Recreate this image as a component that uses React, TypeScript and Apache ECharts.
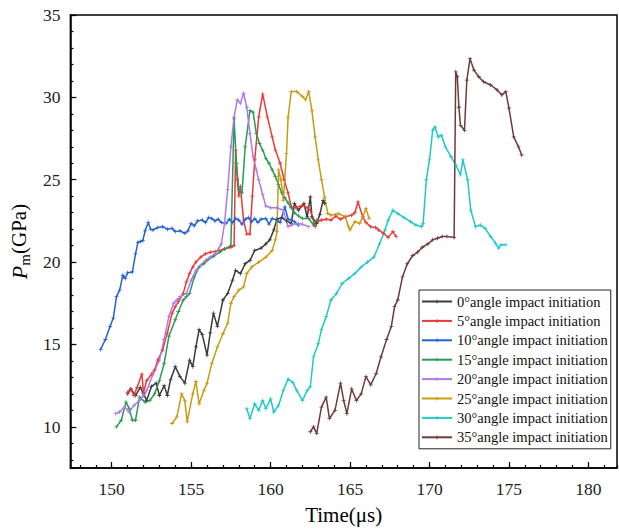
import React, { useEffect, useRef } from 'react';
import * as echarts from 'echarts';

const seriesNames = [
  '0°angle impact initiation',
  '5°angle impact initiation',
  '10°angle impact initiation',
  '15°angle impact initiation',
  '20°angle impact initiation',
  '25°angle impact initiation',
  '30°angle impact initiation',
  '35°angle impact initiation',
];

const seriesColors = ['#3a3a3a', '#e83a3a', '#2462d2', '#2a9a58', '#b07ae6', '#c89b12', '#22c8c8', '#6e3b3b'];

const xTicks = [150, 155, 160, 165, 170, 175, 180];
const yTicks = [10, 15, 20, 25, 30, 35];

const a0: [number, number][] = [[151.0,12.0],[151.2,12.3],[151.5,11.9],[151.8,12.4],[152.0,12.0],[152.2,11.6],[152.5,12.45],[152.8,12.65],[153.0,11.9],[153.3,12.5],[153.5,11.9],[153.7,12.85],[154.0,13.65],[154.3,13.05],[154.6,12.65],[154.9,14.05],[155.1,13.65],[155.3,14.85],[155.5,15.9],[155.7,15.6],[156.0,14.35],[156.2,15.7],[156.4,16.9],[156.65,16.1],[157.0,17.7],[157.3,18.1],[157.6,18.9],[157.8,19.5],[158.1,19.3],[158.4,19.9],[158.7,20.1],[159.0,20.7],[159.4,20.85],[159.7,21.1],[159.95,21.35],[160.2,21.95],[160.4,22.6],[160.7,22.7],[161.0,22.5],[161.3,22.35],[161.5,23.55],[161.75,23.15],[162.1,23.55],[162.3,22.75],[162.5,23.95],[162.6,22.75],[162.9,22.35],[163.1,22.9],[163.3,23.75],[163.4,23.55]];

const a5: [number, number][] = [[151.0,12.1],[151.2,12.3],[151.4,11.9],[151.6,12.4],[151.9,13.2],[152.0,12.1],[152.2,12.8],[152.5,13.2],[152.7,13.45],[152.9,14.05],[153.2,14.65],[153.5,15.7],[153.8,16.9],[154.0,17.3],[154.2,17.6],[154.5,18.1],[154.7,18.8],[154.9,19.3],[155.1,19.7],[155.3,20.0],[155.6,20.3],[155.9,20.5],[156.2,20.6],[156.5,20.65],[156.8,20.7],[157.1,20.8],[157.5,20.9],[157.7,21.0],[157.8,26.8],[157.9,25.0],[158.0,24.0],[158.1,24.6],[158.3,22.5],[158.5,21.7],[158.7,21.7],[158.85,24.0],[159.0,26.2],[159.25,28.8],[159.5,30.2],[159.8,28.8],[160.1,27.6],[160.3,26.8],[160.6,26.0],[160.85,25.0],[161.1,24.2],[161.3,23.35],[161.6,23.3],[162.0,23.45],[162.3,23.3],[162.5,23.15],[162.8,22.15],[163.0,22.5],[163.2,22.55],[163.5,22.6],[163.8,22.55],[164.1,22.8],[164.4,22.6],[164.7,22.75],[165.1,22.85],[165.3,23.0],[165.5,23.65],[165.8,22.75],[166.0,22.4],[166.3,22.15],[166.6,22.1],[166.8,21.95],[167.1,21.75],[167.4,21.5],[167.7,21.85],[167.9,21.55]];

const a10: [number, number][] = [[149.3,14.7],[149.6,15.3],[149.9,16.1],[150.1,16.6],[150.3,17.9],[150.5,18.3],[150.7,19.2],[150.85,19.0],[151.0,19.35],[151.3,19.4],[151.5,20.5],[151.65,21.2],[151.8,21.25],[151.96,21.3],[152.1,21.9],[152.3,22.4],[152.45,22.0],[152.6,21.95],[152.9,22.1],[153.2,22.15],[153.5,22.0],[153.8,22.05],[154.0,21.85],[154.3,21.9],[154.6,21.75],[154.8,21.9],[155.0,22.35],[155.2,22.2],[155.4,22.5],[155.7,22.55],[155.9,22.4],[156.1,22.7],[156.3,22.65],[156.5,22.5],[156.7,22.6],[156.9,22.4],[157.2,22.35],[157.4,22.6],[157.6,22.4],[157.8,22.65],[158.0,22.55],[158.2,22.3],[158.4,22.6],[158.6,22.7],[158.8,22.45],[159.0,22.65],[159.2,22.4],[159.4,22.6],[159.7,22.65],[159.9,22.3],[160.1,22.65],[160.4,22.55],[160.6,22.4],[160.9,23.35],[161.1,22.6],[161.3,22.55],[161.5,22.45],[161.75,22.25]];

const a15: [number, number][] = [[150.3,10.0],[150.6,10.4],[150.9,11.5],[151.1,11.1],[151.3,10.4],[151.5,10.4],[151.75,11.8],[152.1,11.5],[152.4,11.6],[152.7,12.0],[153.0,12.8],[153.3,13.85],[153.6,15.5],[154.0,16.5],[154.2,17.0],[154.5,17.7],[154.7,17.9],[154.9,18.1],[155.2,19.1],[155.5,19.7],[155.8,19.9],[156.0,20.1],[156.4,20.35],[156.8,20.6],[157.1,20.8],[157.5,21.0],[157.7,28.7],[157.85,26.0],[158.0,24.4],[158.2,24.2],[158.4,27.0],[158.7,29.2],[158.9,29.1],[159.1,27.8],[159.3,27.2],[159.5,26.8],[159.7,26.3],[159.9,26.0],[160.1,25.6],[160.3,25.2],[160.5,24.7],[160.7,24.2],[160.9,23.9],[161.1,23.6],[161.3,23.3],[161.5,23.0],[161.75,22.8],[162.0,22.65],[162.4,22.65],[162.7,22.25],[162.9,22.55]];

const a20: [number, number][] = [[150.25,10.8],[150.5,10.9],[150.8,11.2],[151.1,10.9],[151.4,11.3],[151.75,11.6],[152.0,11.9],[152.2,12.2],[152.6,13.2],[153.0,14.05],[153.3,15.3],[153.6,16.7],[153.9,17.5],[154.1,17.7],[154.3,17.9],[154.7,18.1],[155.0,18.9],[155.3,19.5],[155.6,19.8],[155.9,20.1],[156.2,20.3],[156.5,20.5],[156.9,21.1],[157.1,22.35],[157.3,24.4],[157.5,27.0],[157.7,28.8],[157.9,29.85],[158.1,29.65],[158.3,30.25],[158.5,29.4],[158.7,27.8],[158.9,26.4],[159.1,25.6],[159.25,25.0],[159.5,24.1],[159.7,23.4],[160.0,23.3],[160.4,23.3],[160.8,23.15],[161.1,22.15],[161.3,22.25],[161.75,22.35],[162.0,22.3],[162.4,22.15]];

const a25: [number, number][] = [[153.8,10.2],[154.1,10.6],[154.4,12.0],[154.6,11.6],[154.75,10.3],[155.1,12.0],[155.3,12.75],[155.5,11.4],[155.8,12.2],[156.0,12.65],[156.3,13.85],[156.65,14.85],[157.0,15.65],[157.3,16.3],[157.5,17.5],[157.7,17.9],[158.0,18.3],[158.3,18.5],[158.5,19.3],[158.8,19.7],[159.25,20.0],[159.7,20.3],[160.1,20.7],[160.3,21.35],[160.4,21.85],[160.5,25.6],[160.65,25.0],[160.8,23.75],[161.0,26.6],[161.1,28.8],[161.3,30.35],[161.65,30.35],[162.0,30.05],[162.2,29.85],[162.4,30.35],[162.6,29.2],[162.8,27.6],[163.0,26.2],[163.2,25.0],[163.4,23.95],[163.6,22.95],[163.8,22.85],[164.25,22.95],[164.7,22.75],[164.9,22.15],[165.0,21.95],[165.3,22.45],[165.6,22.35],[165.8,22.75],[166.0,23.25],[166.2,22.65]];

const a30: [number, number][] = [[158.5,11.1],[158.7,10.5],[159.0,11.4],[159.25,11.0],[159.5,11.6],[159.7,11.1],[160.0,11.7],[160.2,10.9],[160.5,11.3],[160.8,12.2],[161.1,12.9],[161.4,12.7],[161.65,12.2],[162.0,11.6],[162.3,12.2],[162.5,12.45],[162.7,14.25],[163.0,15.05],[163.2,15.9],[163.5,16.7],[163.8,17.7],[164.15,18.1],[164.5,18.7],[164.9,19.0],[165.3,19.3],[165.7,19.7],[166.1,20.0],[166.5,20.3],[166.85,21.1],[167.2,21.95],[167.4,22.55],[167.7,23.15],[168.0,22.95],[168.4,22.7],[168.8,22.45],[169.15,22.25],[169.5,22.15],[169.6,22.35],[169.8,25.0],[170.0,26.2],[170.2,28.0],[170.35,28.2],[170.55,27.6],[170.75,27.7],[171.0,27.0],[171.35,26.4],[171.65,25.9],[171.95,25.3],[172.1,26.2],[172.4,25.0],[172.6,23.15],[172.9,22.15],[173.2,22.25],[173.5,22.05],[173.85,21.55],[174.15,21.15],[174.35,20.85],[174.5,21.05],[174.8,21.05]];

const a35: [number, number][] = [[162.5,9.7],[162.7,10.0],[162.9,9.6],[163.2,11.2],[163.5,11.8],[163.7,10.5],[164.05,11.0],[164.4,12.65],[164.6,11.6],[164.8,10.8],[165.1,12.3],[165.4,11.6],[165.7,12.0],[166.0,13.05],[166.3,12.55],[166.65,13.25],[166.95,14.25],[167.3,15.3],[167.6,16.1],[167.8,17.3],[168.0,17.7],[168.3,19.1],[168.6,19.9],[168.95,20.4],[169.25,20.6],[169.55,20.9],[169.9,21.1],[170.2,21.35],[170.5,21.45],[170.8,21.55],[171.1,21.55],[171.55,21.5],[171.65,31.55],[171.75,31.25],[171.85,29.4],[171.95,28.3],[172.2,28.0],[172.35,31.05],[172.55,32.35],[172.8,31.65],[173.1,31.25],[173.4,30.95],[173.85,30.75],[174.25,30.45],[174.55,30.15],[174.8,30.35],[175.0,29.35],[175.3,27.6],[175.6,27.0],[175.8,26.5]];

const allData = [a0, a5, a10, a15, a20, a25, a30, a35];

const X_MIN = 147.4;
const X_MAX = 181.8;
const Y_MIN = 7.5;
const Y_MAX = 35;

const FONT = '"Liberation Serif", "Times New Roman", serif';
const PLUS = 'path://M4,0H6V4H10V6H6V10H4V6H0V4H4Z';

export default function App() {
  const ref = useRef<HTMLDivElement>(null);
  useEffect(() => {
    if (!ref.current) return;
    const chart = echarts.init(ref.current, null, { renderer: 'svg' });
    const xSet = new Set(xTicks);
    const ySet = new Set(yTicks);
    chart.setOption({
      animation: false,
      backgroundColor: '#ffffff',
      grid: { left: 67, right: 2, top: 15, bottom: 62, show: true, borderColor: '#000', borderWidth: 1.5 },
      legend: {
        orient: 'vertical',
        left: 419,
        top: 290,
        itemWidth: 30,
        itemHeight: 5,
        itemGap: 4.4,
        padding: [4, 3, 4, 2],
        borderColor: '#222',
        borderWidth: 1,
        backgroundColor: '#fff',
        data: seriesNames,
        textStyle: { fontFamily: FONT, fontSize: 14.5, color: '#111', lineHeight: 14 },
      },
      xAxis: [
        {
          type: 'value', min: X_MIN, max: X_MAX, splitNumber: 7, position: 'bottom',
          axisLine: { show: true, lineStyle: { color: '#000', width: 1.5 } },
          axisTick: { show: true, inside: true, length: 6, lineStyle: { color: '#000', width: 1.2 } },
          axisLabel: {
            margin: 12, fontSize: 17.5, fontFamily: FONT, color: '#222',
            showMinLabel: false, showMaxLabel: false,
            formatter: (v: number) => (xSet.has(v) ? String(v) : ''),
          },
          splitLine: { show: false },
          name: 'Time(μs)', nameLocation: 'middle', nameGap: 36,
          nameTextStyle: { fontSize: 21, fontFamily: FONT, color: '#000' },
        },
        {
          type: 'value', min: X_MIN, max: X_MAX, splitNumber: 34, position: 'bottom',
          axisLine: { show: false },
          axisTick: { show: true, inside: true, length: 3, lineStyle: { color: '#000', width: 1.2 } },
          axisLabel: { show: false },
          splitLine: { show: false },
        },
      ],
      yAxis: [
        {
          type: 'value', min: Y_MIN, max: Y_MAX, splitNumber: 5, position: 'left',
          axisLine: { show: true, lineStyle: { color: '#000', width: 1.5 } },
          axisTick: { show: true, inside: true, length: 6, lineStyle: { color: '#000', width: 1.2 } },
          axisLabel: {
            margin: 10, fontSize: 17.5, fontFamily: FONT, color: '#222',
            showMinLabel: false,
            formatter: (v: number) => (ySet.has(v) ? String(v) : ''),
          },
          splitLine: { show: false },
          name: '{p|P}{m|m}{g|(GPa)}', nameLocation: 'middle', nameGap: 29, nameRotate: 90,
          nameTextStyle: {
            fontFamily: FONT, color: '#000',
            rich: {
              p: { fontSize: 22, fontStyle: 'italic', fontFamily: FONT, color: '#000', lineHeight: 26 },
              m: { fontSize: 15, fontFamily: FONT, color: '#000', lineHeight: 14, verticalAlign: 'bottom' },
              g: { fontSize: 21, fontFamily: FONT, color: '#000', lineHeight: 26 },
            },
          },
        },
        {
          type: 'value', min: Y_MIN, max: Y_MAX, splitNumber: 27, position: 'left',
          axisLine: { show: false },
          axisTick: { show: true, inside: true, length: 3, lineStyle: { color: '#000', width: 1.2 } },
          axisLabel: { show: false },
          splitLine: { show: false },
        },
      ],
      series: allData.map((d, i) => ({
        name: seriesNames[i],
        type: 'line',
        xAxisIndex: 0,
        yAxisIndex: 0,
        data: d,
        symbol: PLUS,
        symbolSize: 4,
        showSymbol: true,
        color: seriesColors[i],
        lineStyle: { width: 1.5, color: seriesColors[i] },
        itemStyle: { color: seriesColors[i] },
      })),
    });
    return () => chart.dispose();
  }, []);
  return (
    <div
      ref={ref}
      style={{ position: 'fixed', left: 0, top: 0, width: 619, height: 530, background: '#fff' }}
    />
  );
}
